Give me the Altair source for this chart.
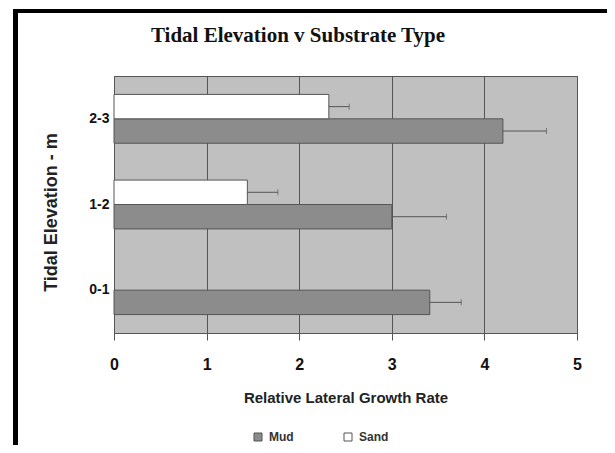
import altair as alt
import pandas as pd

# ---- data ----
elevation = ["2-3", "1-2", "0-1"]
series = ["Mud", "Sand"]
mud_rate = [4.20, 3.00, 3.41]
mud_err = [0.47, 0.59, 0.34]
sand_rate = [2.32, 1.44, None]
sand_err = [0.22, 0.33, None]
chart_title = "Tidal Elevation v Substrate Type"

rows = []
for e, v, er in zip(elevation, mud_rate, mud_err):
    rows.append({"elev": e, "series": "Mud", "rate": v, "hi": v + er})
for e, v, er in zip(elevation, sand_rate, sand_err):
    if v is not None:
        rows.append({"elev": e, "series": "Sand", "rate": v, "hi": v + er})
df = pd.DataFrame(rows)
frame_df = pd.DataFrame({"k": [0]})
title_df = pd.DataFrame({"t": [chart_title]})

FONT = "Liberation Sans"
GRID = "#555555"

y_scale = alt.Scale(domain=elevation, paddingInner=0.43, paddingOuter=0.215)
y_enc = alt.Y(
    "elev:N",
    sort=elevation,
    scale=y_scale,
    axis=alt.Axis(
        title="Tidal Elevation - m",
        ticks=False,
        domain=False,
        labelFont=FONT,
        labelFontSize=14,
        labelFontWeight="bold",
        labelColor="#111111",
        labelPadding=5,
        titleFont=FONT,
        titleFontSize=18,
        titleFontWeight="bold",
        titleColor="#222222",
        titleX=-54,
        titleY=136,
        titleAlign="center",
    ),
)
yoff = alt.YOffset("series:N", scale=alt.Scale(domain=["Sand", "Mud"]))
x_enc = alt.X(
    "rate:Q",
    scale=alt.Scale(domain=[0, 5], nice=False),
    axis=alt.Axis(
        values=[0, 1, 2, 3, 4, 5],
        format="d",
        grid=True,
        gridColor=GRID,
        gridOpacity=1,
        domainColor=GRID,
        tickColor=GRID,
        tickSize=7,
        labelFlush=False,
        labelFont=FONT,
        labelFontSize=16,
        labelFontWeight="bold",
        labelColor="#111111",
        labelBaseline="alphabetic",
        labelPadding=29,
        title="Relative Lateral Growth Rate",
        titleFont=FONT,
        titleFontSize=15,
        titleFontWeight="bold",
        titleColor="#222222",
        titleBaseline="alphabetic",
        titleY=69,
    ),
)

bars = alt.Chart(df).mark_bar(stroke=GRID, strokeWidth=1).encode(
    x=x_enc,
    y=y_enc,
    yOffset=yoff,
    color=alt.Color(
        "series:N",
        scale=alt.Scale(domain=series, range=["#8c8c8c", "#ffffff"]),
        legend=alt.Legend(
            title=None,
            orient="none",
            legendX=138,
            legendY=355,
            direction="horizontal",
            symbolType="square",
            symbolSize=64,
            symbolStrokeColor=GRID,
            symbolStrokeWidth=1,
            labelFont=FONT,
            labelFontSize=12,
            labelFontWeight="bold",
            labelColor="#333333",
            labelOffset=5,
            columnPadding=48,
            padding=0,
        ),
    ),
)

err = alt.Chart(df).mark_rule(color=GRID, strokeWidth=1).encode(
    x="rate:Q",
    x2="hi:Q",
    y=alt.Y("elev:N", sort=elevation),
    yOffset=yoff,
)
caps = alt.Chart(df).mark_tick(color=GRID, size=6, thickness=1).encode(
    x="hi:Q",
    y=alt.Y("elev:N", sort=elevation),
    yOffset=yoff,
)

title_mark = alt.Chart(title_df).mark_text(
    font="Liberation Serif",
    fontSize=21,
    fontWeight="bold",
    color="#111111",
    align="center",
    baseline="alphabetic",
).encode(text="t:N", x=alt.value(184), y=alt.value(-34))

frame_top = alt.Chart(frame_df).mark_rule(color="black", strokeWidth=4).encode(
    x=alt.value(-101), x2=alt.value(500), y=alt.value(-65)
)
frame_left = alt.Chart(frame_df).mark_rule(color="black", strokeWidth=5).encode(
    x=alt.value(-98.5), y=alt.value(-67), y2=alt.value(400)
)

chart = (
    alt.layer(bars, err, caps, title_mark, frame_top, frame_left)
    .properties(
        width=463,
        height=257,
        autosize=alt.AutoSizeParams(type="none"),
        padding={"left": 106, "top": 68, "right": 30, "bottom": 112},
        background="white",
    )
    .configure_view(fill="#c0c0c0", stroke=GRID, strokeWidth=1)
)

chart.save("out.html", embed_options={"renderer": "svg", "actions": False})
